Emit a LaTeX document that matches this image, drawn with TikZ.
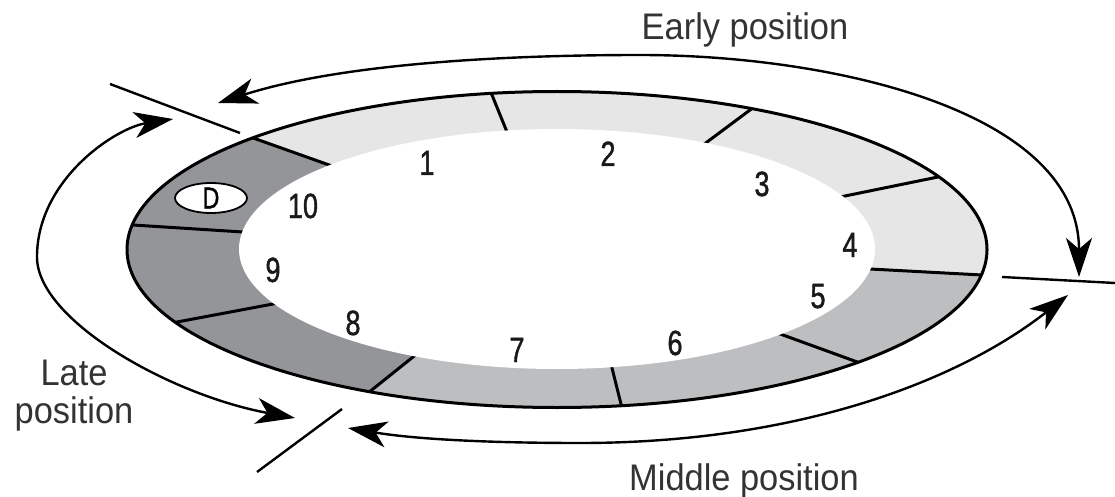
\documentclass[tikz,border=0pt]{standalone}
\usepackage{fontspec}
\setmainfont{Liberation Sans}
\newfontfamily\digitfont[FakeStretch=0.77,FakeBold=1.2]{Liberation Sans}
\newfontfamily\labelfont[FakeStretch=0.93]{Liberation Sans}
\usetikzlibrary{arrows.meta,shapes.geometric,calc}
\definecolor{segLight}{HTML}{E6E6E7}
\definecolor{segMid}{HTML}{BCBEC0}
\definecolor{segDark}{HTML}{939598}
\begin{document}
\begin{tikzpicture}[x=1pt,y=-1pt,
  digit/.style={font=\digitfont\fontsize{35}{40}\selectfont, anchor=base, inner sep=0pt, text=black!90},
  lab/.style={font=\labelfont\fontsize{37}{42}\selectfont, anchor=base, inner sep=0pt, text=black!80},
  divider/.style={line width=3pt, shorten <=-10pt, shorten >=-10pt},
  tick/.style={line width=2.4pt},
  arc/.style={line width=2.4pt, arrows={Stealth[length=39pt,width=26pt,inset=11pt]-Stealth[length=39pt,width=26pt,inset=11pt]}}
]
\useasboundingbox (0,0) rectangle (1115,497);
\fill[white] (0,0) rectangle (1115,497);

% centre
\coordinate (c) at (557,249.5);
% divider points (inner i, outer o)
\coordinate (i1) at (332,166); \coordinate (o1) at (256,139);
\coordinate (i2) at (507,132); \coordinate (o2) at (492,95);
\coordinate (i3) at (703,145); \coordinate (o3) at (750,110);
\coordinate (i4) at (840,197); \coordinate (o4) at (938,177);
\coordinate (i5) at (870,269); \coordinate (o5) at (982,275);
\coordinate (i6) at (783,335); \coordinate (o6) at (860,363);
\coordinate (i7) at (612,368); \coordinate (o7) at (622,408);
\coordinate (i8) at (413,357); \coordinate (o8) at (368,393);
\coordinate (i9) at (273,304); \coordinate (o9) at (177,322);
\coordinate (i10) at (243,232); \coordinate (o10) at (133,225);

\begin{scope}
  \clip (c) ellipse [x radius=430pt, y radius=158pt];
  \fill[segDark] (c) ellipse [x radius=430pt, y radius=158pt];
  \fill[segLight] (c) -- (i1) -- (142,98.5) -- (142,-10) -- (1200,-10) -- (1200,287) -- (i5) -- cycle;
  \fill[segMid] (c) -- (i5) -- (1200,287) -- (1200,520) -- (209,520) -- (i8) -- cycle;
  \foreach \k in {1,...,10} { \draw[divider] (i\k) -- (o\k); }
\end{scope}
\fill[white] (557,249) ellipse [x radius=318pt, y radius=120pt];
\draw[line width=3pt] (c) ellipse [x radius=430pt, y radius=158pt];

% numbers
\node[digit] (n1) at (427,175) {1};
\node[digit] (n2) at (608,166) {2};
\node[digit] (n3) at (762,196) {3};
\node[digit] (n4) at (850,257) {4};
\node[digit] (n5) at (818,308) {5};
\node[digit] (n6) at (675,355) {6};
\node[digit] (n7) at (517,362) {7};
\node[digit] (n8) at (353,335) {8};
\node[digit] (n9) at (273,282) {9};
\node[digit] (n10) at (303,218) {10};

\node[ellipse, draw, line width=1.8pt, fill=white, minimum width=72pt, minimum height=30pt, inner sep=0pt,
      font=\digitfont\fontsize{30}{32}\selectfont] (D) at (211,198) {D};

% labels
\node[lab] (early) at (745,40) {Early position};
\node[lab] (middle) at (744,490) {Middle position};
\node[lab] (late) at (74,385) {Late};
\node[lab] (latepos) at (74,423) {position};

% boundary ticks
\coordinate (t1a) at (110,84); \coordinate (t1b) at (240,133);
\coordinate (t2a) at (1002,277); \coordinate (t2b) at (1115,283);
\coordinate (t3a) at (342,409); \coordinate (t3b) at (257,472);
\draw[tick] (t1a) -- (t1b);
\draw[tick] (t2a) -- (t2b);
\draw[tick] (t3a) -- (t3b);

% arcs
\coordinate (e1) at (218,103); \coordinate (e2) at (1079,277);
\coordinate (etop) at (640,55);
\draw[arc] (e1) .. controls (340,64) and (500,55) .. (etop)
                .. controls (830,55) and (1079,110) .. (e2);
\coordinate (m1) at (348,428); \coordinate (m2) at (1068,295);
\coordinate (mbot) at (580,443);
\draw[arc] (m1) .. controls (420,440) and (500,443) .. (mbot)
                .. controls (800,443) and (960,380) .. (m2);
\coordinate (l1) at (295,418); \coordinate (l2) at (173,119);
\coordinate (lleft) at (37,257);
\draw[arc] (l2) .. controls (115,128) and (37,180) .. (lleft)
                .. controls (37,320) and (170,395) .. (l1);
\end{tikzpicture}
\end{document}
